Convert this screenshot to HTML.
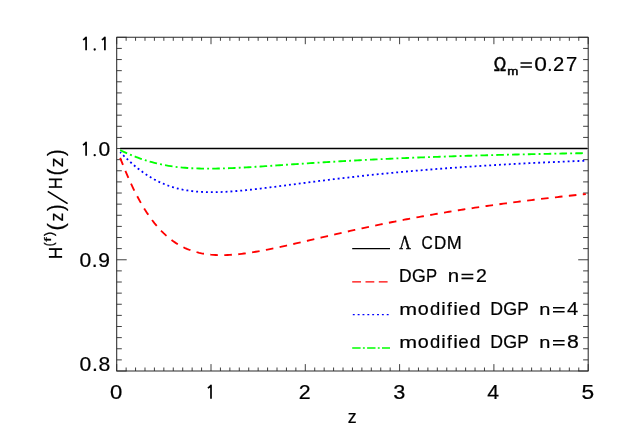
<!DOCTYPE html>
<html><head><meta charset="utf-8"><title>plot</title>
<style>
html,body{margin:0;padding:0;background:#fff;}
body{width:623px;height:445px;overflow:hidden;}
svg{display:block;will-change:transform;}
text{font-family:"Liberation Sans",sans-serif;font-size:100px;fill:#000;}
</style></head><body>
<svg width="623" height="445" viewBox="0 0 623 445">
<rect width="623" height="445" fill="#fff"/>
<g>
<text transform="matrix(0.2105 0 0 0.1958 98.46 155.90)" stroke="#000" stroke-width="1.08">0</text>
<text transform="matrix(0.2105 0 0 0.1986 79.56 267.30)" letter-spacing="2.69" stroke="#000" stroke-width="1.08">0.9</text>
<text transform="matrix(0.2120 0 0 0.2000 79.55 371.20)" letter-spacing="2.91" stroke="#000" stroke-width="1.07">0.8</text>
<text transform="matrix(0.2211 0 0 0.1972 110.12 399.10)" stroke="#000" stroke-width="1.05">0</text>
<text transform="matrix(0.2132 0 0 0.1929 298.73 399.00)" stroke="#000" stroke-width="1.08">2</text>
<text transform="matrix(0.2170 0 0 0.1930 393.33 399.01)" stroke="#000" stroke-width="1.07">3</text>
<text transform="matrix(0.2120 0 0 0.1957 487.37 399.00)" stroke="#000" stroke-width="1.08">4</text>
<text transform="matrix(0.2274 0 0 0.1957 581.39 399.00)" stroke="#000" stroke-width="1.04">5</text>
<text transform="matrix(0.1780 0 0 0.1925 347.69 423.10)" stroke="#000" stroke-width="1.19">z</text>
<text transform="matrix(0.1603 0 0 0.1954 399.34 248.60)" style="font-family:'Liberation Serif'" stroke="#000" stroke-width="2.25">Λ</text>
<text transform="matrix(0.2047 0 0 0.1759 447.67 281.90)" stroke="#000" stroke-width="1.16">n</text>
<text transform="matrix(0.1956 0 0 0.1857 476.12 281.90)" stroke="#000" stroke-width="1.15">2</text>
<text transform="matrix(0.2000 0 0 0.1741 539.30 315.20)" stroke="#000" stroke-width="1.18">n</text>
<text transform="matrix(0.2020 0 0 0.1826 567.00 315.20)" stroke="#000" stroke-width="1.14">4</text>
<text transform="matrix(0.2000 0 0 0.1741 539.30 348.20)" stroke="#000" stroke-width="1.18">n</text>
<text transform="matrix(0.2128 0 0 0.1831 566.94 348.32)" stroke="#000" stroke-width="1.11">8</text>
<text transform="matrix(0.1667 0 0 0.1971 493.65 70.90)" stroke="#000" stroke-width="3.02">Ω</text>
<text transform="matrix(0.1329 0 0 0.1056 507.24 75.30)" stroke="#000" stroke-width="4.19">m</text>
<text transform="matrix(0.2274 0 0 0.1986 534.19 70.90)" stroke="#000" stroke-width="1.03">0</text>
<text transform="matrix(0.2022 0 0 0.1986 552.99 70.90)" stroke="#000" stroke-width="1.10">2</text>
<text transform="matrix(0.2022 0 0 0.1986 565.89 70.90)" stroke="#000" stroke-width="1.10">7</text>
<text transform="matrix(0.2143 0 0 0.1741 399.21 315.10)" stroke="#000" stroke-width="1.13">m</text>
<text transform="matrix(0.1979 0 0 0.1764 417.81 315.12)" stroke="#000" stroke-width="1.18">o</text>
<text transform="matrix(0.1844 0 0 0.1823 429.96 315.12)" stroke="#000" stroke-width="1.20">d</text>
<text transform="matrix(0.2000 0 0 0.1793 441.20 315.10)" stroke="#000" stroke-width="1.16">i</text>
<text transform="matrix(0.1736 0 0 0.1890 446.94 315.10)" stroke="#000" stroke-width="1.21">f</text>
<text transform="matrix(0.2111 0 0 0.1793 453.33 315.10)" stroke="#000" stroke-width="1.13">i</text>
<text transform="matrix(0.1871 0 0 0.1764 458.36 315.12)" stroke="#000" stroke-width="1.21">e</text>
<text transform="matrix(0.1911 0 0 0.1823 469.74 315.12)" stroke="#000" stroke-width="1.18">d</text>
<text transform="matrix(0.1765 0 0 0.1841 490.19 315.10)" stroke="#000" stroke-width="1.22">D</text>
<text transform="matrix(0.1786 0 0 0.1845 503.21 315.12)" stroke="#000" stroke-width="1.21">G</text>
<text transform="matrix(0.1720 0 0 0.1841 517.22 315.10)" stroke="#000" stroke-width="1.24">P</text>
<text transform="matrix(0.2143 0 0 0.1741 399.21 348.10)" stroke="#000" stroke-width="1.13">m</text>
<text transform="matrix(0.1979 0 0 0.1764 417.81 348.12)" stroke="#000" stroke-width="1.18">o</text>
<text transform="matrix(0.1844 0 0 0.1823 429.96 348.12)" stroke="#000" stroke-width="1.20">d</text>
<text transform="matrix(0.2000 0 0 0.1793 441.20 348.10)" stroke="#000" stroke-width="1.16">i</text>
<text transform="matrix(0.1736 0 0 0.1890 446.94 348.10)" stroke="#000" stroke-width="1.21">f</text>
<text transform="matrix(0.2111 0 0 0.1793 453.33 348.10)" stroke="#000" stroke-width="1.13">i</text>
<text transform="matrix(0.1871 0 0 0.1764 458.36 348.12)" stroke="#000" stroke-width="1.21">e</text>
<text transform="matrix(0.1911 0 0 0.1823 469.74 348.12)" stroke="#000" stroke-width="1.18">d</text>
<text transform="matrix(0.1765 0 0 0.1841 490.19 348.10)" stroke="#000" stroke-width="1.22">D</text>
<text transform="matrix(0.1786 0 0 0.1845 503.21 348.12)" stroke="#000" stroke-width="1.21">G</text>
<text transform="matrix(0.1720 0 0 0.1841 517.22 348.10)" stroke="#000" stroke-width="1.24">P</text>
<text transform="matrix(0.1748 0 0 0.1841 399.10 281.80)" stroke="#000" stroke-width="1.23">D</text>
<text transform="matrix(0.1771 0 0 0.1845 412.01 281.82)" stroke="#000" stroke-width="1.22">G</text>
<text transform="matrix(0.1664 0 0 0.1841 425.97 281.80)" stroke="#000" stroke-width="1.26">P</text>
<text transform="matrix(0.1556 0 0 0.1859 421.42 248.61)" stroke="#000" stroke-width="1.29">C</text>
<text transform="matrix(0.1697 0 0 0.1855 433.94 248.60)" stroke="#000" stroke-width="1.24">D</text>
<text transform="matrix(0.1806 0 0 0.1855 446.76 248.60)" stroke="#000" stroke-width="1.20">M</text>
</g>
<g transform="translate(62.50 258.00) rotate(-90)">
<text transform="matrix(0.1661 0 0 0.1841 -0.93 -0.20)" stroke="#000" stroke-width="1.26">H</text>
<text transform="matrix(0.1094 0 0 0.1305 11.84 -9.04)" stroke="#000" stroke-width="2.92">(</text>
<text transform="matrix(0.1585 0 0 0.0828 16.36 -11.50)" stroke="#000" stroke-width="2.90">f</text>
<text transform="matrix(0.1269 0 0 0.1305 22.07 -9.04)" stroke="#000" stroke-width="2.72">)</text>
<text transform="matrix(0.2226 0 0 0.2203 27.56 0.57)" stroke="#000" stroke-width="0.99">(</text>
<text transform="matrix(0.1780 0 0 0.1868 36.59 0.20)" stroke="#000" stroke-width="1.21">z</text>
<text transform="matrix(0.1962 0 0 0.2203 46.90 0.57)" stroke="#000" stroke-width="1.06">)</text>
<text transform="matrix(0.1679 0 0 0.1841 68.66 -0.20)" stroke="#000" stroke-width="1.25">H</text>
<text transform="matrix(0.2038 0 0 0.2203 82.48 0.57)" stroke="#000" stroke-width="1.04">(</text>
<text transform="matrix(0.1951 0 0 0.1868 90.82 0.20)" stroke="#000" stroke-width="1.15">z</text>
<text transform="matrix(0.1962 0 0 0.2203 101.90 0.57)" stroke="#000" stroke-width="1.06">)</text>
</g>
<path d="M83.02,39.77L84.25,39.15L86.10,37.30V50.25" fill="none" stroke="#000" stroke-width="1.70" stroke-linejoin="round"/>
<circle cx="94.70" cy="49.50" r="1.15" fill="#000"/>
<path d="M101.82,39.77L103.05,39.15L104.90,37.30V50.25" fill="none" stroke="#000" stroke-width="1.70" stroke-linejoin="round"/>
<path d="M82.93,144.93L84.20,144.30L86.10,142.40V155.70" fill="none" stroke="#000" stroke-width="1.70" stroke-linejoin="round"/>
<circle cx="94.70" cy="155.20" r="1.15" fill="#000"/>
<path d="M207.83,387.93L209.10,387.30L211.00,385.40V398.70" fill="none" stroke="#000" stroke-width="1.70" stroke-linejoin="round"/>
<path d="M520.50,63.00H531.90M520.50,66.90H531.90" stroke="#000" stroke-width="1.55" fill="none"/>
<circle cx="549.80" cy="70.00" r="1.15" fill="#000"/>
<path d="M461.50,274.45H473.30M461.50,278.35H473.30" stroke="#000" stroke-width="1.55" fill="none"/>
<path d="M553.00,307.75H564.60M553.00,311.65H564.60" stroke="#000" stroke-width="1.55" fill="none"/>
<path d="M553.00,340.75H564.60M553.00,344.65H564.60" stroke="#000" stroke-width="1.55" fill="none"/>
<path d="M67.60,203.60L47.80,191.40" stroke="#000" stroke-width="1.70" fill="none"/>
<rect x="116.70" y="37.30" width="471.50" height="333.70" fill="none" stroke="#2b2b2b" stroke-width="1.05" stroke-linejoin="round"/>
<path d="M116.70,371.00v-6.90M116.70,37.30v6.90M126.13,371.00v-3.50M126.13,37.30v3.50M135.56,371.00v-3.50M135.56,37.30v3.50M144.99,371.00v-3.50M144.99,37.30v3.50M154.42,371.00v-3.50M154.42,37.30v3.50M163.85,371.00v-3.50M163.85,37.30v3.50M173.28,371.00v-3.50M173.28,37.30v3.50M182.71,371.00v-3.50M182.71,37.30v3.50M192.14,371.00v-3.50M192.14,37.30v3.50M201.57,371.00v-3.50M201.57,37.30v3.50M211.00,371.00v-6.90M211.00,37.30v6.90M220.43,371.00v-3.50M220.43,37.30v3.50M229.86,371.00v-3.50M229.86,37.30v3.50M239.29,371.00v-3.50M239.29,37.30v3.50M248.72,371.00v-3.50M248.72,37.30v3.50M258.15,371.00v-3.50M258.15,37.30v3.50M267.58,371.00v-3.50M267.58,37.30v3.50M277.01,371.00v-3.50M277.01,37.30v3.50M286.44,371.00v-3.50M286.44,37.30v3.50M295.87,371.00v-3.50M295.87,37.30v3.50M305.30,371.00v-6.90M305.30,37.30v6.90M314.73,371.00v-3.50M314.73,37.30v3.50M324.16,371.00v-3.50M324.16,37.30v3.50M333.59,371.00v-3.50M333.59,37.30v3.50M343.02,371.00v-3.50M343.02,37.30v3.50M352.45,371.00v-3.50M352.45,37.30v3.50M361.88,371.00v-3.50M361.88,37.30v3.50M371.31,371.00v-3.50M371.31,37.30v3.50M380.74,371.00v-3.50M380.74,37.30v3.50M390.17,371.00v-3.50M390.17,37.30v3.50M399.60,371.00v-6.90M399.60,37.30v6.90M409.03,371.00v-3.50M409.03,37.30v3.50M418.46,371.00v-3.50M418.46,37.30v3.50M427.89,371.00v-3.50M427.89,37.30v3.50M437.32,371.00v-3.50M437.32,37.30v3.50M446.75,371.00v-3.50M446.75,37.30v3.50M456.18,371.00v-3.50M456.18,37.30v3.50M465.61,371.00v-3.50M465.61,37.30v3.50M475.04,371.00v-3.50M475.04,37.30v3.50M484.47,371.00v-3.50M484.47,37.30v3.50M493.90,371.00v-6.90M493.90,37.30v6.90M503.33,371.00v-3.50M503.33,37.30v3.50M512.76,371.00v-3.50M512.76,37.30v3.50M522.19,371.00v-3.50M522.19,37.30v3.50M531.62,371.00v-3.50M531.62,37.30v3.50M541.05,371.00v-3.50M541.05,37.30v3.50M550.48,371.00v-3.50M550.48,37.30v3.50M559.91,371.00v-3.50M559.91,37.30v3.50M569.34,371.00v-3.50M569.34,37.30v3.50M578.77,371.00v-3.50M578.77,37.30v3.50M588.20,371.00v-6.90M588.20,37.30v6.90M116.70,371.00h10.00M588.20,371.00h-10.00M116.70,359.88h5.10M588.20,359.88h-5.10M116.70,348.75h5.10M588.20,348.75h-5.10M116.70,337.63h5.10M588.20,337.63h-5.10M116.70,326.51h5.10M588.20,326.51h-5.10M116.70,315.38h5.10M588.20,315.38h-5.10M116.70,304.26h5.10M588.20,304.26h-5.10M116.70,293.14h5.10M588.20,293.14h-5.10M116.70,282.01h5.10M588.20,282.01h-5.10M116.70,270.89h5.10M588.20,270.89h-5.10M116.70,259.77h10.00M588.20,259.77h-10.00M116.70,248.64h5.10M588.20,248.64h-5.10M116.70,237.52h5.10M588.20,237.52h-5.10M116.70,226.40h5.10M588.20,226.40h-5.10M116.70,215.27h5.10M588.20,215.27h-5.10M116.70,204.15h5.10M588.20,204.15h-5.10M116.70,193.03h5.10M588.20,193.03h-5.10M116.70,181.90h5.10M588.20,181.90h-5.10M116.70,170.78h5.10M588.20,170.78h-5.10M116.70,159.66h5.10M588.20,159.66h-5.10M116.70,148.53h10.00M588.20,148.53h-10.00M116.70,137.41h5.10M588.20,137.41h-5.10M116.70,126.29h5.10M588.20,126.29h-5.10M116.70,115.16h5.10M588.20,115.16h-5.10M116.70,104.04h5.10M588.20,104.04h-5.10M116.70,92.92h5.10M588.20,92.92h-5.10M116.70,81.79h5.10M588.20,81.79h-5.10M116.70,70.67h5.10M588.20,70.67h-5.10M116.70,59.55h5.10M588.20,59.55h-5.10M116.70,48.42h5.10M588.20,48.42h-5.10M116.70,37.30h10.00M588.20,37.30h-10.00" stroke="#2b2b2b" stroke-width="0.9" fill="none"/>
<path d="M120.19,148.53H587.26" stroke="#000" stroke-width="1.45" fill="none"/>
<path d="M120.19,157.88 L121.42,161.04 L123.77,166.96 L126.13,172.64 L128.49,178.09 L130.84,183.31 L133.20,188.29 L135.56,193.03 L137.92,197.55 L140.28,201.84 L142.63,205.91 L144.99,209.76 L147.35,213.39 L149.71,216.83 L152.06,220.06 L154.42,223.10 L156.78,225.95 L159.14,228.62 L161.49,231.12 L163.85,233.45 L166.21,235.62 L168.57,237.64 L170.92,239.51 L173.28,241.25 L175.64,242.85 L178.00,244.32 L180.35,245.68 L182.71,246.91 L185.07,248.04 L187.43,249.07 L189.78,249.99 L192.14,250.83 L194.50,251.57 L196.86,252.23 L199.21,252.81 L201.57,253.32 L203.93,253.76 L206.29,254.13 L208.64,254.43 L211.00,254.68 L213.36,254.87 L215.72,255.01 L218.07,255.10 L220.43,255.14 L222.79,255.14 L225.15,255.09 L227.50,255.01 L229.86,254.89 L232.22,254.74 L234.58,254.55 L236.93,254.34 L239.29,254.10 L241.65,253.83 L244.01,253.53 L246.36,253.22 L248.72,252.88 L251.08,252.52 L253.44,252.15 L255.79,251.76 L258.15,251.35 L260.51,250.92 L262.87,250.49 L265.22,250.04 L267.58,249.58 L269.94,249.11 L272.30,248.63 L274.65,248.14 L277.01,247.64 L279.37,247.14 L281.73,246.62 L284.08,246.11 L286.44,245.59 L288.80,245.06 L291.16,244.53 L293.51,243.99 L295.87,243.45 L298.23,242.91 L300.59,242.37 L302.94,241.82 L305.30,241.28 L307.66,240.73 L310.02,240.18 L312.37,239.63 L314.73,239.08 L317.09,238.53 L319.45,237.98 L321.80,237.44 L324.16,236.89 L326.52,236.34 L328.88,235.80 L331.23,235.25 L333.59,234.71 L335.95,234.17 L338.31,233.63 L340.66,233.10 L343.02,232.56 L345.38,232.03 L347.74,231.50 L350.09,230.97 L352.45,230.45 L354.81,229.93 L357.17,229.41 L359.52,228.89 L361.88,228.38 L364.24,227.87 L366.60,227.37 L368.95,226.86 L371.31,226.36 L373.67,225.87 L376.03,225.37 L378.38,224.88 L380.74,224.39 L383.10,223.91 L385.46,223.43 L387.81,222.95 L390.17,222.48 L392.53,222.01 L394.89,221.54 L397.24,221.08 L399.60,220.62 L401.96,220.17 L404.32,219.71 L406.67,219.26 L409.03,218.82 L411.39,218.38 L413.75,217.94 L416.10,217.50 L418.46,217.07 L420.82,216.64 L423.18,216.22 L425.53,215.80 L427.89,215.38 L430.25,214.97 L432.61,214.55 L434.96,214.15 L437.32,213.74 L439.68,213.34 L442.04,212.94 L444.39,212.55 L446.75,212.16 L449.11,211.77 L451.47,211.39 L453.82,211.00 L456.18,210.63 L458.54,210.25 L460.90,209.88 L463.25,209.51 L465.61,209.14 L467.97,208.78 L470.33,208.42 L472.68,208.07 L475.04,207.71 L477.40,207.36 L479.76,207.01 L482.11,206.67 L484.47,206.33 L486.83,205.99 L489.19,205.65 L491.54,205.32 L493.90,204.99 L496.26,204.66 L498.62,204.34 L500.97,204.01 L503.33,203.70 L505.69,203.38 L508.05,203.06 L510.40,202.75 L512.76,202.44 L515.12,202.14 L517.48,201.84 L519.83,201.53 L522.19,201.24 L524.55,200.94 L526.91,200.65 L529.26,200.36 L531.62,200.07 L533.98,199.78 L536.34,199.50 L538.69,199.22 L541.05,198.94 L543.41,198.66 L545.77,198.39 L548.12,198.11 L550.48,197.84 L552.84,197.58 L555.20,197.31 L557.55,197.05 L559.91,196.79 L562.27,196.53 L564.63,196.27 L566.98,196.01 L569.34,195.76 L571.70,195.51 L574.06,195.26 L576.41,195.02 L578.77,194.77 L581.13,194.53 L583.49,194.29 L585.84,194.05" stroke="#ff0000" stroke-width="1.85" fill="none" stroke-dasharray="7.6 6.4"/>
<path d="M120.19,152.20 L121.42,153.45 L123.77,155.82 L126.13,158.12 L128.49,160.35 L130.84,162.50 L133.20,164.57 L135.56,166.57 L137.92,168.47 L140.28,170.30 L142.63,172.04 L144.99,173.69 L147.35,175.26 L149.71,176.74 L152.06,178.14 L154.42,179.46 L156.78,180.70 L159.14,181.86 L161.49,182.94 L163.85,183.95 L166.21,184.89 L168.57,185.76 L170.92,186.55 L173.28,187.29 L175.64,187.96 L178.00,188.57 L180.35,189.13 L182.71,189.63 L185.07,190.07 L187.43,190.47 L189.78,190.82 L192.14,191.13 L194.50,191.39 L196.86,191.61 L199.21,191.79 L201.57,191.94 L203.93,192.06 L206.29,192.14 L208.64,192.19 L211.00,192.21 L213.36,192.21 L215.72,192.18 L218.07,192.12 L220.43,192.05 L222.79,191.95 L225.15,191.84 L227.50,191.71 L229.86,191.56 L232.22,191.39 L234.58,191.21 L236.93,191.02 L239.29,190.81 L241.65,190.60 L244.01,190.37 L246.36,190.13 L248.72,189.89 L251.08,189.64 L253.44,189.38 L255.79,189.11 L258.15,188.83 L260.51,188.56 L262.87,188.27 L265.22,187.98 L267.58,187.69 L269.94,187.40 L272.30,187.10 L274.65,186.80 L277.01,186.49 L279.37,186.19 L281.73,185.88 L284.08,185.57 L286.44,185.26 L288.80,184.96 L291.16,184.65 L293.51,184.34 L295.87,184.03 L298.23,183.72 L300.59,183.41 L302.94,183.10 L305.30,182.79 L307.66,182.49 L310.02,182.18 L312.37,181.88 L314.73,181.58 L317.09,181.28 L319.45,180.98 L321.80,180.68 L324.16,180.39 L326.52,180.09 L328.88,179.80 L331.23,179.51 L333.59,179.22 L335.95,178.94 L338.31,178.66 L340.66,178.38 L343.02,178.10 L345.38,177.82 L347.74,177.55 L350.09,177.28 L352.45,177.01 L354.81,176.74 L357.17,176.48 L359.52,176.22 L361.88,175.96 L364.24,175.70 L366.60,175.45 L368.95,175.20 L371.31,174.95 L373.67,174.70 L376.03,174.46 L378.38,174.22 L380.74,173.98 L383.10,173.74 L385.46,173.51 L387.81,173.28 L390.17,173.05 L392.53,172.82 L394.89,172.60 L397.24,172.38 L399.60,172.16 L401.96,171.94 L404.32,171.73 L406.67,171.51 L409.03,171.30 L411.39,171.10 L413.75,170.89 L416.10,170.69 L418.46,170.49 L420.82,170.29 L423.18,170.09 L425.53,169.90 L427.89,169.71 L430.25,169.52 L432.61,169.33 L434.96,169.14 L437.32,168.96 L439.68,168.78 L442.04,168.60 L444.39,168.42 L446.75,168.25 L449.11,168.07 L451.47,167.90 L453.82,167.73 L456.18,167.57 L458.54,167.40 L460.90,167.24 L463.25,167.07 L465.61,166.91 L467.97,166.76 L470.33,166.60 L472.68,166.45 L475.04,166.29 L477.40,166.14 L479.76,165.99 L482.11,165.84 L484.47,165.70 L486.83,165.55 L489.19,165.41 L491.54,165.27 L493.90,165.13 L496.26,164.99 L498.62,164.85 L500.97,164.72 L503.33,164.58 L505.69,164.45 L508.05,164.32 L510.40,164.19 L512.76,164.06 L515.12,163.94 L517.48,163.81 L519.83,163.69 L522.19,163.57 L524.55,163.44 L526.91,163.32 L529.26,163.21 L531.62,163.09 L533.98,162.97 L536.34,162.86 L538.69,162.74 L541.05,162.63 L543.41,162.52 L545.77,162.41 L548.12,162.30 L550.48,162.20 L552.84,162.09 L555.20,161.98 L557.55,161.88 L559.91,161.78 L562.27,161.67 L564.63,161.57 L566.98,161.47 L569.34,161.38 L571.70,161.28 L574.06,161.18 L576.41,161.09 L578.77,160.99 L581.13,160.90 L583.49,160.80 L585.84,160.71" stroke="#0000ff" stroke-width="1.8" fill="none" stroke-dasharray="1.9 3.008" stroke-dashoffset="0.65"/>
<path d="M120.19,150.19 L121.42,150.76 L123.77,151.83 L126.13,152.89 L128.49,153.91 L130.84,154.90 L133.20,155.86 L135.56,156.78 L137.92,157.67 L140.28,158.52 L142.63,159.34 L144.99,160.11 L147.35,160.85 L149.71,161.55 L152.06,162.21 L154.42,162.83 L156.78,163.42 L159.14,163.96 L161.49,164.47 L163.85,164.95 L166.21,165.39 L168.57,165.79 L170.92,166.17 L173.28,166.51 L175.64,166.82 L178.00,167.10 L180.35,167.36 L182.71,167.59 L185.07,167.79 L187.43,167.97 L189.78,168.12 L192.14,168.25 L194.50,168.36 L196.86,168.45 L199.21,168.53 L201.57,168.58 L203.93,168.62 L206.29,168.64 L208.64,168.64 L211.00,168.64 L213.36,168.62 L215.72,168.58 L218.07,168.54 L220.43,168.48 L222.79,168.42 L225.15,168.34 L227.50,168.26 L229.86,168.17 L232.22,168.07 L234.58,167.97 L236.93,167.86 L239.29,167.74 L241.65,167.62 L244.01,167.49 L246.36,167.36 L248.72,167.22 L251.08,167.08 L253.44,166.94 L255.79,166.79 L258.15,166.65 L260.51,166.50 L262.87,166.34 L265.22,166.19 L267.58,166.03 L269.94,165.88 L272.30,165.72 L274.65,165.56 L277.01,165.40 L279.37,165.24 L281.73,165.08 L284.08,164.92 L286.44,164.76 L288.80,164.60 L291.16,164.44 L293.51,164.28 L295.87,164.13 L298.23,163.97 L300.59,163.81 L302.94,163.65 L305.30,163.50 L307.66,163.34 L310.02,163.19 L312.37,163.03 L314.73,162.88 L317.09,162.73 L319.45,162.58 L321.80,162.43 L324.16,162.28 L326.52,162.14 L328.88,161.99 L331.23,161.85 L333.59,161.71 L335.95,161.56 L338.31,161.43 L340.66,161.29 L343.02,161.15 L345.38,161.01 L347.74,160.88 L350.09,160.75 L352.45,160.62 L354.81,160.49 L357.17,160.36 L359.52,160.23 L361.88,160.11 L364.24,159.98 L366.60,159.86 L368.95,159.74 L371.31,159.62 L373.67,159.50 L376.03,159.38 L378.38,159.27 L380.74,159.15 L383.10,159.04 L385.46,158.93 L387.81,158.82 L390.17,158.71 L392.53,158.60 L394.89,158.50 L397.24,158.39 L399.60,158.29 L401.96,158.19 L404.32,158.08 L406.67,157.98 L409.03,157.89 L411.39,157.79 L413.75,157.69 L416.10,157.60 L418.46,157.50 L420.82,157.41 L423.18,157.32 L425.53,157.23 L427.89,157.14 L430.25,157.05 L432.61,156.97 L434.96,156.88 L437.32,156.80 L439.68,156.71 L442.04,156.63 L444.39,156.55 L446.75,156.47 L449.11,156.39 L451.47,156.31 L453.82,156.23 L456.18,156.16 L458.54,156.08 L460.90,156.01 L463.25,155.93 L465.61,155.86 L467.97,155.79 L470.33,155.72 L472.68,155.65 L475.04,155.58 L477.40,155.51 L479.76,155.44 L482.11,155.38 L484.47,155.31 L486.83,155.25 L489.19,155.18 L491.54,155.12 L493.90,155.06 L496.26,155.00 L498.62,154.93 L500.97,154.87 L503.33,154.81 L505.69,154.76 L508.05,154.70 L510.40,154.64 L512.76,154.58 L515.12,154.53 L517.48,154.47 L519.83,154.42 L522.19,154.36 L524.55,154.31 L526.91,154.26 L529.26,154.21 L531.62,154.16 L533.98,154.10 L536.34,154.05 L538.69,154.00 L541.05,153.96 L543.41,153.91 L545.77,153.86 L548.12,153.81 L550.48,153.77 L552.84,153.72 L555.20,153.67 L557.55,153.63 L559.91,153.58 L562.27,153.54 L564.63,153.50 L566.98,153.45 L569.34,153.41 L571.70,153.37 L574.06,153.33 L576.41,153.29 L578.77,153.25 L581.13,153.21 L583.49,153.17 L585.84,153.13" stroke="#00ff00" stroke-width="1.85" fill="none" stroke-dasharray="7.6 3.15 1.9 3.15"/>
<path d="M352.2,248.7H390.0" stroke="#000" stroke-width="1.3"/>
<path d="M352.2,281.8H390.0" stroke="#ff0000" stroke-width="1.3" stroke-dasharray="8.8 4.5"/>
<path d="M352.8,314.7H390.0" stroke="#0000ff" stroke-width="1.3" stroke-dasharray="1.9 2.95"/>
<path d="M352.2,348.0H390.0" stroke="#00ff00" stroke-width="1.3" stroke-dasharray="8.4 2.3 1.9 2.3"/>
</svg></body></html>
